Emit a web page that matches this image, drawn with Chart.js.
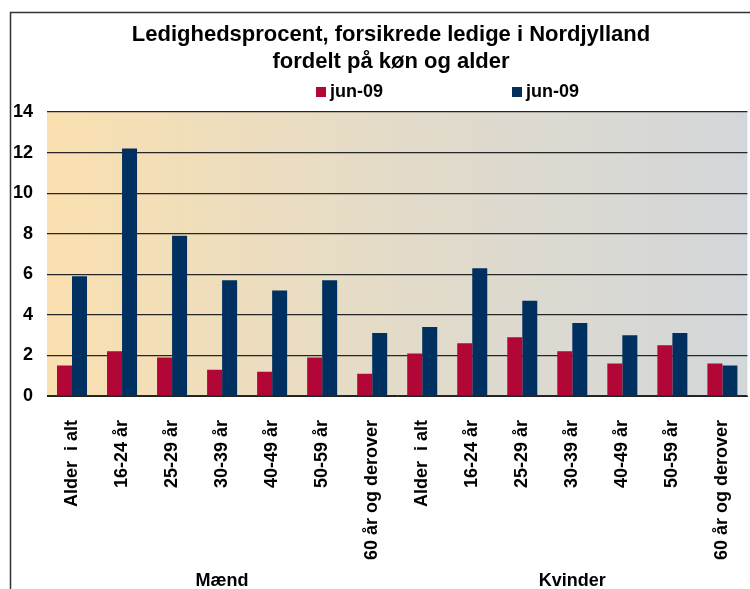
<!DOCTYPE html>
<html>
<head>
<meta charset="utf-8">
<script src="https://cdn.jsdelivr.net/npm/chart.js@4/dist/chart.umd.min.js"></script>
<style>
    body { margin: 0; background: #fff; overflow: hidden; }
    canvas { display: block; }
</style>
</head>
<body>
<canvas id="chart" width="760" height="589"></canvas>
<script>
const categories = ['Alder  i alt', '16-24 år', '25-29 år', '30-39 år', '40-49 år', '50-59 år', '60 år og derover',
    'Alder  i alt', '16-24 år', '25-29 år', '30-39 år', '40-49 år', '50-59 år', '60 år og derover'];
const groups = ['Mænd', 'Kvinder'];
const seriesNames = ['jun-09', 'jun-09'];
const redValues = [1.5, 2.2, 1.9, 1.3, 1.2, 1.9, 1.1, 2.1, 2.6, 2.9, 2.2, 1.6, 2.5, 1.6];
const blueValues = [5.9, 12.2, 7.9, 5.7, 5.2, 5.7, 3.1, 3.4, 6.3, 4.7, 3.6, 3.0, 3.1, 1.5];
const titleLines = ['Ledighedsprocent, forsikrede ledige i Nordjylland', 'fordelt på køn og alder'];

const FONT = '"Liberation Sans", Arial, sans-serif';
const colors = ['#B10636', '#00305F'];

document.addEventListener("DOMContentLoaded", ev => {
    // frame, title, legend and group labels
    const decor = {
        id: 'decor',
        beforeDraw(chart) {
            const {ctx, chartArea: a} = chart;
            ctx.save();
            const g = ctx.createLinearGradient(a.left, 0, a.right, 0);
            g.addColorStop(0, '#FAE0B0');
            g.addColorStop(0.5, '#E3DBC9');
            g.addColorStop(1, '#D3D7DA');
            ctx.fillStyle = g;
            ctx.fillRect(a.left, a.top, a.right - a.left, a.bottom - a.top);
            ctx.restore();
        },
        afterDraw(chart) {
            const {ctx} = chart;
            const x = chart.scales.x;
            ctx.save();
            ctx.strokeStyle = '#333';
            ctx.lineWidth = 1.5;
            ctx.beginPath();
            ctx.moveTo(10.5, 589);
            ctx.lineTo(10.5, 12.5);
            ctx.lineTo(760, 12.5);
            ctx.stroke();

            ctx.fillStyle = '#000';
            ctx.textAlign = 'center';
            ctx.textBaseline = 'alphabetic';
            ctx.font = 'bold 22px ' + FONT;
            titleLines.forEach((t, i) => ctx.fillText(t, 391, 41 + i * 27));

            // legend
            ctx.font = 'bold 18px ' + FONT;
            ctx.textAlign = 'left';
            ctx.textBaseline = 'middle';
            const legendX = [316, 512];
            seriesNames.forEach((n, i) => {
                ctx.fillStyle = colors[i];
                ctx.fillRect(legendX[i], 87, 10, 10);
                ctx.fillStyle = '#000';
                ctx.fillText(n, legendX[i] + 14, 92);
            });

            // group labels under the categories
            ctx.textAlign = 'center';
            groups.forEach((grp, i) => {
                const cx = x.getPixelForValue(i * 7 + 3);
                ctx.fillText(grp, cx, 581);
            });
            ctx.restore();
        }
    };

    new Chart(document.getElementById('chart'), {
        type: 'bar',
        data: {
            labels: categories,
            datasets: [{
                label: seriesNames[0],
                data: redValues,
                backgroundColor: colors[0]
            }, {
                label: seriesNames[1],
                data: blueValues,
                backgroundColor: colors[1]
            }]
        },
        options: {
            responsive: false,
            animation: false,
            devicePixelRatio: 1,
            layout: {padding: {top: 112, right: 0, left: 0, bottom: 0}},
            plugins: {
                legend: {display: false},
                title: {display: false},
                tooltip: {enabled: false}
            },
            datasets: {bar: {categoryPercentage: 0.6, barPercentage: 1}},
            scales: {
                x: {
                    grid: {display: false},
                    border: {display: true, color: '#222'},
                    afterFit: s => { s.height = 193 },
                    ticks: {
                        minRotation: 90, maxRotation: 90, padding: 16,
                        color: '#000', font: {family: FONT, size: 18, weight: 'bold'}
                    }
                },
                y: {
                    min: 0, max: 14,
                    afterFit: s => { s.width = 47 },
                    border: {display: false},
                    grid: {color: '#262626', lineWidth: 1.2, drawTicks: false},
                    ticks: {
                        stepSize: 2, padding: 14,
                        color: '#000', font: {family: FONT, size: 18, weight: 'bold'}
                    }
                }
            }
        },
        plugins: [decor]
    });
});
</script>
</body>
</html>
